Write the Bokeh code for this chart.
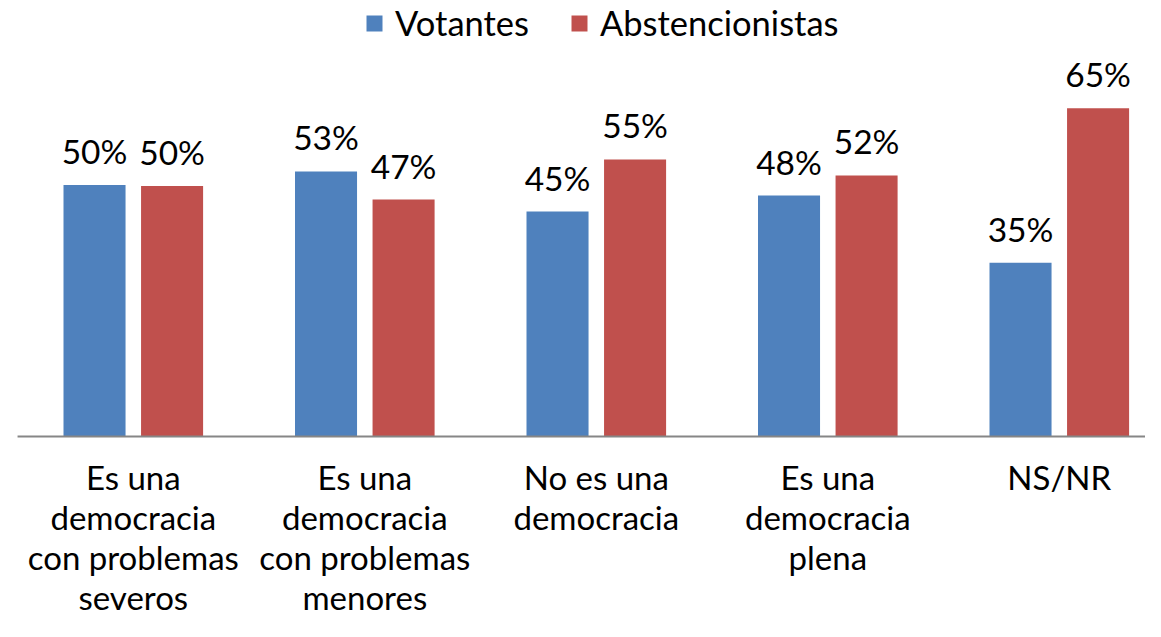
from bokeh.plotting import figure
from bokeh.models import ColumnDataSource, Legend, LegendItem
from bokeh.core.properties import value
from bokeh.embed import file_html
from bokeh.resources import INLINE

categories = ["Es una\ndemocracia\ncon problemas\nseveros",
              "Es una\ndemocracia\ncon problemas\nmenores",
              "No es una\ndemocracia",
              "Es una\ndemocracia\nplena",
              "NS/NR"]
votantes = [50.1, 52.8, 44.8, 48.0, 34.6]
abstencionistas = [49.9, 47.2, 55.2, 52.0, 65.4]
series_names = ["Votantes", "Abstencionistas"]

BLUE = "#4F81BD"
RED = "#C0504D"
FONT = "Lato"

W, H = 1145, 621
px_per_cat = 231.5
px_per_pct = 5.02
cat0_px = 132.8
base_py = 436

x_start = -cat0_px / px_per_cat
x_end = (W - cat0_px) / px_per_cat
y_end = base_py / px_per_pct
y_start = -(H - base_py) / px_per_pct

p = figure(width=W, height=H, output_backend="svg", toolbar_location=None,
           x_range=(x_start, x_end), y_range=(y_start, y_end),
           min_border=0, min_border_left=0, min_border_right=0,
           min_border_top=0, min_border_bottom=0)
p.axis.visible = False
p.grid.visible = False
p.outline_line_color = None
p.background_fill_color = "white"
p.border_fill_color = "white"

off = 0.1675
bw = 0.268
xs = list(range(len(categories)))
src = ColumnDataSource(dict(
    xb=[x - off for x in xs], xr=[x + off for x in xs],
    vb=votantes, vr=abstencionistas,
    lb=[f"{round(v)}%" for v in votantes],
    lr=[f"{round(v)}%" for v in abstencionistas],
))

rb = p.vbar(x="xb", top="vb", bottom=0, width=bw, source=src,
            fill_color=BLUE, line_color=None)
rr = p.vbar(x="xr", top="vr", bottom=0, width=bw, source=src,
            fill_color=RED, line_color=None)

# baseline axis line
p.segment(x0=[-0.5], y0=[0], x1=[x_end + 1], y1=[0], line_color="#868686", line_width=2)

for xcol, vcol, lcol in [("xb", "vb", "lb"), ("xr", "vr", "lr")]:
    p.text(x=xcol, y=vcol, text=lcol, source=src, y_offset=-34,
           text_align="center", text_baseline="alphabetic",
           text_font=value(FONT), text_font_size="33.5px", text_color="black")

# category labels, one glyph row per line
lx, lt, lo = [], [], []
for i, c in enumerate(categories):
    for j, line in enumerate(c.split("\n")):
        lx.append(i)
        lt.append(line)
        lo.append(40 + j * 40)
lsrc = ColumnDataSource(dict(x=lx, y=[0] * len(lx), t=lt, o=lo))
p.text(x="x", y="y", text="t", y_offset="o", source=lsrc,
       text_align="center", text_baseline="alphabetic",
       text_font=value(FONT), text_font_size="33px", text_color="black")

legend = Legend(items=[LegendItem(label=series_names[0], renderers=[rb]),
                       LegendItem(label=series_names[1], renderers=[rr])],
                orientation="horizontal", location=(364, 578),
                glyph_width=20, glyph_height=20, label_standoff=11, spacing=40,
                padding=0, margin=0, border_line_color=None,
                background_fill_alpha=0,
                label_text_font=FONT, label_text_font_size="34.5px",
                label_text_color="black")
p.add_layout(legend, "center")

open("out.html", "w").write(file_html(p, INLINE))
